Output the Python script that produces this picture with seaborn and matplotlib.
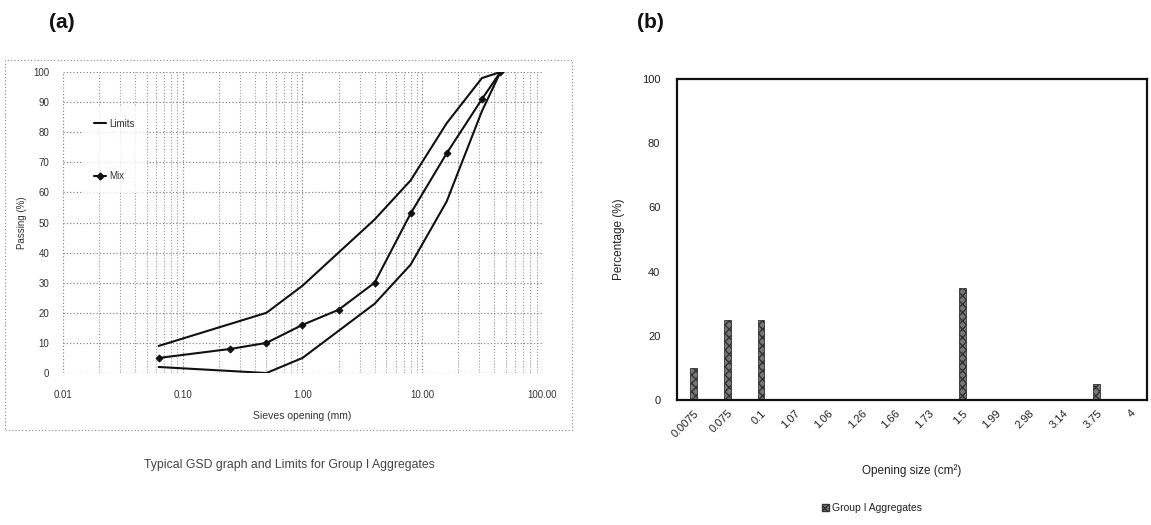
import numpy as np
import pandas as pd
import matplotlib
matplotlib.use("Agg")
import matplotlib.pyplot as plt
from matplotlib.lines import Line2D
from matplotlib.patches import Rectangle, Patch
from matplotlib.ticker import FixedLocator, LogLocator, NullFormatter
import seaborn as sns

sns.set_theme(style="white")
plt.rcParams["font.family"] = ["Liberation Sans", "DejaVu Sans"]

# ---- grading curve data (sieve opening in mm, % passing) ----
limit_sieves = [0.063, 0.5, 1.0, 2.0, 4.0, 8.0, 16.0, 31.5, 45.0]
upper_limit = [9, 20, 29, 40, 51, 64, 83, 98, 100]
lower_limit = [2, 0, 5, 14, 23, 36, 57, 87, 100]
mix_sieves = [0.063, 0.25, 0.5, 1.0, 2.0, 4.0, 8.0, 16.0, 31.5, 45.0]
mix_passing = [5, 8, 10, 16, 21, 30, 53, 73, 91, 100]
x_ticks = [0.01, 0.1, 1, 10, 100]
x_tick_labels = ["0.01", "0.10", "1.00", "10.00", "100.00"]

# ---- opening size distribution ----
opening_sizes = ["0.0075", "0.075", "0.1", "1.07", "1.06", "1.26", "1.66",
                 "1.73", "1.5", "1.99", "2.98", "3.14", "3.75", "4"]
group_pct = [10, 25, 25, 0, 0, 0, 0, 0, 35, 0, 0, 0, 5, 0]

fig = plt.figure(figsize=(11.51, 5.25), dpi=100)

# ================= panel (a) =================
ax1 = fig.add_axes([0.0547, 0.2895, 0.4162, 0.5733])
limits_df = pd.concat([
    pd.DataFrame({"size": limit_sieves, "pass": upper_limit, "curve": "upper"}),
    pd.DataFrame({"size": limit_sieves, "pass": lower_limit, "curve": "lower"}),
])
mix_df = pd.DataFrame({"size": mix_sieves, "pass": mix_passing})

sns.lineplot(data=limits_df, x="size", y="pass", units="curve", estimator=None,
             color="#111111", linewidth=1.5, ax=ax1, legend=False)
sns.lineplot(data=mix_df, x="size", y="pass", color="#111111", linewidth=1.5,
             marker="D", markersize=3.5, markeredgecolor="#111111",
             ax=ax1, legend=False)

ax1.set_xscale("log")
ax1.set_xlim(0.01, 100)
ax1.set_ylim(0, 100)
ax1.xaxis.set_major_locator(FixedLocator(x_ticks))
ax1.set_xticklabels(x_tick_labels)
ax1.xaxis.set_minor_locator(LogLocator(base=10, subs=np.arange(2, 10)))
ax1.xaxis.set_minor_formatter(NullFormatter())
ax1.set_yticks(np.arange(0, 101, 10))
ax1.grid(True, which="major", linestyle=":", color="#888888", linewidth=0.9)
ax1.grid(True, which="minor", axis="x", linestyle=":", color="#999999", linewidth=0.8)
for s in ax1.spines.values():
    s.set_visible(False)
ax1.tick_params(axis="both", which="both", length=0, labelsize=7,
                labelcolor="#333333")
ax1.tick_params(axis="y", pad=10)
ax1.tick_params(axis="x", pad=12)
ax1.set_xlabel("Sieves opening (mm)", fontsize=7.5, color="#333333", labelpad=8)
ax1.set_ylabel("Passing (%)", fontsize=7, color="#333333", labelpad=4)

handles = [Line2D([], [], color="#111111", lw=1.5),
           Line2D([], [], color="#111111", lw=1.5, marker="D", markersize=3.5)]
leg = ax1.legend(handles, ["Limits", "Mix"], loc="upper left",
                 bbox_to_anchor=(0.03, 0.90), fontsize=7, labelspacing=4.4,
                 handlelength=1.3, handletextpad=0.3, frameon=True,
                 borderpad=1.2, fancybox=False)
leg.get_frame().set_edgecolor("none")
leg.get_frame().set_facecolor("white")
for t in leg.get_texts():
    t.set_color("#333333")

# dotted chart border
fig.patches.append(Rectangle((5 / 1151, 1 - 430 / 525), 567 / 1151, 370 / 525,
                             transform=fig.transFigure, fill=False,
                             edgecolor="#999999", linestyle=":", linewidth=0.9))

fig.text(289 / 1151, 1 - 465 / 525,
         "Typical GSD graph and Limits for Group I Aggregates",
         ha="center", va="center", fontsize=8.8, color="#444444")
fig.text(62 / 1151, 1 - 23 / 525, "(a)", ha="center", va="center",
         fontsize=15, fontweight="bold", color="#111111")

# ================= panel (b) =================
ax2 = fig.add_axes([0.5882, 0.2381, 0.4083, 0.6114])
bar_df = pd.DataFrame({"size": opening_sizes, "pct": group_pct})
sns.barplot(data=bar_df, x="size", y="pct", order=opening_sizes, width=0.2,
            color="#777777", edgecolor="#333333", linewidth=0.6,
            hatch="xxxx", ax=ax2)
ax2.set_ylim(0, 100)
ax2.set_yticks(np.arange(0, 101, 20))
ax2.set_xlim(-0.5, len(opening_sizes) - 0.5)
for s in ax2.spines.values():
    s.set_visible(True)
    s.set_color("#111111")
    s.set_linewidth(1.6)
ax2.tick_params(axis="y", length=0, labelsize=8, labelcolor="#222222", pad=12)
ax2.tick_params(axis="x", length=0, labelsize=8, labelcolor="#222222", pad=6)
plt.setp(ax2.get_xticklabels(), rotation=45, ha="right", rotation_mode="anchor")
ax2.set_xlabel("Opening size (cm²)", fontsize=8.5, color="#222222", labelpad=18)
ax2.set_ylabel("Percentage (%)", fontsize=8.5, color="#222222", labelpad=12)

leg2 = fig.legend([Patch(facecolor="#777777", edgecolor="#333333", hatch="xxxx")],
                  ["Group I Aggregates"], loc="center",
                  bbox_to_anchor=(872 / 1151, 1 - 508 / 525), fontsize=7.5,
                  frameon=False, handlelength=0.7, handleheight=0.7,
                  handletextpad=0.3)
for t in leg2.get_texts():
    t.set_color("#222222")

fig.text(650 / 1151, 1 - 23 / 525, "(b)", ha="center", va="center",
         fontsize=15, fontweight="bold", color="#111111")

fig.savefig("out.png", dpi=100, facecolor="white")
